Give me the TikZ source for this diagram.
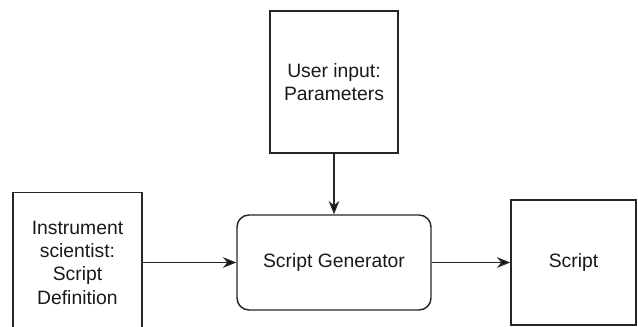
\documentclass[tikz,border=0pt]{standalone}
\usepackage{fontspec}
\setmainfont{Liberation Sans}
\usetikzlibrary{positioning, arrows.meta}

\begin{document}
\begin{tikzpicture}[x=0.75pt, y=-0.75pt, on grid, auto,
    box/.style={draw=black!85, line width=1.1pt, align=center, font=\fontsize{14.5}{17.5}\selectfont, text=black!90, inner sep=0pt},
    genbox/.style={box, rounded corners=9pt},
    flow/.style={-{Stealth[length=10pt, width=8pt]}, draw=black!85, line width=1.1pt}]
    \useasboundingbox (0,0) rectangle (638,327);

    \node[genbox, minimum width=145.5pt, minimum height=71.25pt] (gen) at (334,262.5) {Script Generator};
    \node[box, minimum width=96pt, minimum height=106.5pt] (user) [above=135.4pt of gen] {User input:\\Parameters};
    \node[box, minimum width=96.75pt, minimum height=105pt] (sci) [left=192.4pt of gen] {Instrument\\scientist:\\Script\\Definition};
    \node[box, minimum width=93.75pt, minimum height=93.75pt] (script) [right=179.6pt of gen] {Script};

    \path[flow]
    (user) edge (gen)
    (sci) edge (gen)
    (gen) edge (script);
\end{tikzpicture}
\end{document}
